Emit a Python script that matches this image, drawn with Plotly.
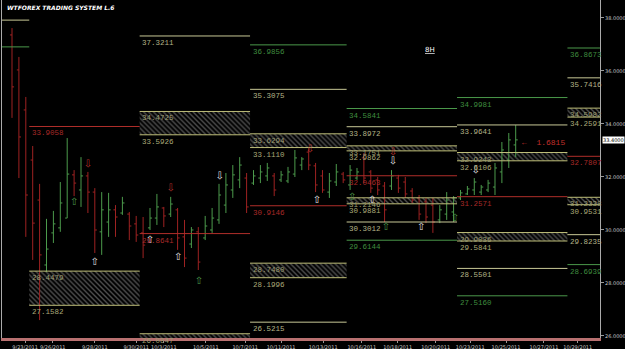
import plotly.graph_objects as go

TITLE = "WTFOREX TRADING SYSTEM L.6"

# ---- 8H price bars (bar index 0..73) ----
opens = [37.36, 36.04, 34.53, 32.64, 31.13, 28.68, 29.89, 30.08, 30.45, 32.08,
         31.51, 32.04, 31.43, 29.93, 30.30, 30.76, 30.64, 30.60, 30.23, 29.89,
         30.08, 30.45, 30.83, 30.60, 30.76, 29.74, 29.47, 29.93, 29.70, 30.00,
         30.38, 30.94, 31.51, 31.89, 31.96, 31.77, 31.96, 32.04, 32.04, 31.89,
         31.85, 32.11, 32.45, 32.94, 32.42, 32.04, 31.43, 31.81, 32.11, 31.70,
         31.96, 32.72, 32.19, 31.89, 31.66, 31.66, 31.96, 31.81, 31.47, 31.21,
         31.06, 30.94, 30.38, 30.60, 30.68, 31.21, 31.36, 31.51, 31.43, 31.51,
         31.62, 32.19, 32.64, 33.21]
highs = [37.62, 36.53, 35.02, 33.17, 31.74, 30.42, 30.72, 31.81, 33.47, 32.26,
         32.75, 32.19, 31.58, 31.43, 31.40, 30.94, 31.25, 30.68, 30.53, 30.49,
         30.83, 31.36, 30.87, 31.25, 30.83, 30.38, 30.11, 30.11, 30.53, 30.83,
         31.74, 32.15, 32.45, 32.75, 32.15, 32.26, 32.45, 32.53, 32.15, 32.23,
         32.38, 33.02, 32.75, 33.09, 32.53, 32.26, 32.15, 32.49, 32.19, 32.45,
         32.34, 32.91, 32.26, 32.00, 31.81, 32.26, 32.08, 32.00, 31.58, 31.32,
         31.21, 31.21, 30.94, 31.43, 31.28, 31.51, 31.66, 31.96, 31.70, 31.89,
         32.53, 33.32, 33.66, 33.96]
lows = [34.23, 31.96, 29.74, 28.87, 26.60, 28.41, 29.51, 29.93, 30.45, 31.28,
        30.87, 30.64, 29.13, 29.06, 29.74, 29.74, 30.57, 29.62, 29.55, 28.94,
        30.00, 30.19, 30.11, 30.49, 29.25, 28.60, 29.32, 28.49, 29.62, 29.89,
        30.23, 30.64, 31.21, 31.58, 30.64, 31.70, 31.77, 31.85, 31.28, 31.81,
        31.77, 32.00, 32.26, 32.26, 31.43, 31.40, 31.21, 31.66, 31.77, 31.51,
        31.89, 31.77, 31.40, 31.32, 30.30, 31.51, 31.40, 31.21, 31.02, 30.38,
        30.26, 29.89, 30.26, 30.38, 30.30, 31.13, 31.32, 31.32, 31.32, 31.43,
        31.32, 31.77, 32.34, 32.75]
closes = [35.40, 33.51, 31.32, 30.26, 29.06, 29.28, 30.23, 31.02, 32.11, 31.77,
          32.04, 31.43, 30.00, 30.76, 30.76, 30.49, 31.02, 30.15, 29.81, 29.43,
          30.45, 30.87, 30.53, 30.98, 29.70, 28.94, 30.00, 28.79, 30.15, 30.45,
          31.32, 31.70, 32.08, 32.45, 30.87, 32.04, 32.19, 32.34, 31.51, 32.08,
          32.19, 32.72, 32.68, 32.45, 31.70, 31.51, 31.85, 32.19, 31.89, 32.26,
          32.19, 31.96, 31.58, 31.51, 30.76, 32.04, 31.58, 31.36, 31.13, 30.60,
          30.49, 30.30, 30.76, 31.13, 31.21, 31.40, 31.55, 31.81, 31.62, 31.77,
          32.34, 33.02, 33.40, 33.40]
bar_index = list(range(len(opens)))

# ---- x axis date labels (bar index where label sits) ----
date_labels = ["9/23/2011", "9/26/2011", "9/28/2011", "9/30/2011", "10/3/2011",
               "10/5/2011", "10/7/2011", "10/11/2011", "10/13/2011", "10/16/2011",
               "10/18/2011", "10/20/2011", "10/23/2011", "10/25/2011", "10/27/2011",
               "10/29/2011"]
date_pos = [1.9, 5.9, 12.0, 18.0, 22.0, 28.1, 33.8, 39.0, 45.1, 50.7,
            55.9, 61.4, 66.4, 71.6, 77.1, 82.0]

# ---- weekly level periods (bar index edges) ----
week_edges = [-1.45, 2.5, 18.5, 34.5, 48.5, 64.5, 80.5, 85.22]

# single lines: week, kind (G green / Y yellow / R red), price, label
line_week = [0, 0,
             1,
             2, 2,
             3, 3, 3, 3,
             4, 4, 4, 4, 4,
             5, 5, 5, 5, 5,
             6, 6, 6, 6, 6]
line_kind = ["Y", "G",
             "R",
             "Y", "R",
             "G", "Y", "R", "Y",
             "G", "Y", "R", "Y", "G",
             "G", "Y", "R", "Y", "G",
             "G", "Y", "R", "Y", "G"]
line_price = [37.92, 36.91,
              33.9058,
              37.3211, 29.8641,
              36.9856, 35.3075, 30.9146, 26.5215,
              34.5841, 33.8972, 32.0463, 30.3012, 29.6144,
              34.9981, 33.9641, 31.2571, 28.5501, 27.5160,
              36.8673, 35.7416, 32.7807, 29.8235, 28.6939]
line_text = ["", "",
             "33.9058",
             "37.3211", "29.8641",
             "36.9856", "35.3075", "30.9146", "26.5215",
             "34.5841", "33.8972", "32.0463", "30.3012", "29.6144",
             "34.9981", "33.9641", "31.2571", "28.5501", "27.5160",
             "36.8673", "35.7416", "32.7807", "29.8235", "28.6939"]

# hatched zones: week, top, bottom, labels
zone_week = [1, 2, 2, 3, 3, 4, 4, 5, 5, 6, 6]
zone_top = [28.4479, 34.4725, 26.0847, 33.6294, 28.7480, 33.1751, 31.2146,
            32.9243, 29.9036, 34.5982, 31.2338]
zone_bottom = [27.1582, 33.5926, 25.80, 33.1110, 28.1996, 32.9862, 30.9881,
               32.6106, 29.5841, 34.2591, 30.9531]
zone_top_text = ["28.4479", "34.4725", "26.0847", "33.6294", "28.7480", "33.1751",
                 "31.2146", "32.9243", "29.9036", "34.5982", "31.2338"]
zone_bottom_text = ["27.1582", "33.5926", "", "33.1110", "28.1996", "32.9862",
                    "30.9881", "32.6106", "29.5841", "34.2591", "30.9531"]

# signal arrows
sig_x = [9.0, 11.0, 23.0, 12.0, 24.1, 27.1, 20.0, 30.1, 43.2, 44.2, 49.3,
         52.2, 55.2, 55.2, 54.2, 59.3, 64.2, 67.2]
sig_y = [31.02, 32.49, 31.55, 28.79, 28.98, 28.04, 29.62, 32.00, 33.02, 31.13,
         31.21, 31.13, 32.94, 32.57, 30.08, 30.11, 30.45, 32.26]
sig_dir = ["up", "down", "down", "up", "up", "up", "up", "down", "down", "up",
           "up", "up", "down", "down", "up", "up", "up", "down"]
sig_col = ["G", "R", "R", "W", "W", "G", "W", "W", "R", "W",
           "G", "W", "R", "W", "G", "W", "G", "W"]

last_price = 33.40
range_text = "1.6815"
range_pos = (73.6, 33.32)
tf_text = "8H"
tf_pos = (60.6, 36.79)

# ---------------- figure ----------------
COL = {"G": "#4a984a", "Y": "#c8c896", "R": "#b02e2a", "W": "#e0e0e0",
       "Z": "#bebe78"}
LCOL = {"G": "#3f8c3f", "Y": "#b4b488", "R": "#a82a28"}
LABEL_FONT = "Liberation Mono"
LSIZE = 7.5

fig = go.Figure()

# hatched zones as based bars
zx, zw, zb, zh = [], [], [], []
for w, t, b in zip(zone_week, zone_top, zone_bottom):
    x0, x1 = week_edges[w], week_edges[w + 1]
    zx.append((x0 + x1) / 2)
    zw.append(x1 - x0)
    zb.append(b)
    zh.append(t - b)
fig.add_trace(go.Bar(x=zx, y=zh, base=zb, width=zw,
                     marker=dict(color="black", line=dict(width=0),
                                 pattern=dict(shape="\\", fgcolor="#a0a0a0",
                                              bgcolor="black", size=3.5,
                                              solidity=0.4)),
                     hoverinfo="skip", showlegend=False))

# level lines
for kind in ["G", "Y", "R"]:
    xs, ys = [], []
    for w, k, p in zip(line_week, line_kind, line_price):
        if k != kind:
            continue
        xs += [week_edges[w], week_edges[w + 1], None]
        ys += [p, p, None]
    fig.add_trace(go.Scatter(x=xs, y=ys, mode="lines",
                             line=dict(color=COL[kind], width=1),
                             hoverinfo="skip", showlegend=False))
# zone borders
xs, ys = [], []
for w, t, b in zip(zone_week, zone_top, zone_bottom):
    for p in (t, b):
        xs += [week_edges[w], week_edges[w + 1], None]
        ys += [p, p, None]
fig.add_trace(go.Scatter(x=xs, y=ys, mode="lines",
                         line=dict(color=COL["Z"], width=1),
                         hoverinfo="skip", showlegend=False))

# price bars
fig.add_trace(go.Ohlc(x=bar_index, open=opens, high=highs, low=lows, close=closes,
                      increasing=dict(line=dict(color="#4c9a4c", width=1)),
                      decreasing=dict(line=dict(color="#9e2222", width=1)),
                      tickwidth=0.3, hoverinfo="skip", showlegend=False))

# signals
fig.add_trace(go.Scatter(x=sig_x, y=sig_y, mode="text",
                         text=["\u21e7" if d == "up" else "\u21e9" for d in sig_dir],
                         textfont=dict(family="DejaVu Sans", size=10,
                                       color=[COL[c] for c in sig_col]),
                         hoverinfo="skip", showlegend=False))

ann = []
for w, k, p, t in zip(line_week, line_kind, line_price, line_text):
    if t:
        ann.append(dict(x=week_edges[w] + 0.1, y=p, xref="x", yref="y", text=t,
                        showarrow=False, xanchor="left", yanchor="top", yshift=-1,
                        font=dict(family=LABEL_FONT, size=LSIZE, color=LCOL[k])))
for w, t, b, tt, bt in zip(zone_week, zone_top, zone_bottom, zone_top_text,
                           zone_bottom_text):
    if tt:
        ann.append(dict(x=week_edges[w] + 0.1, y=t, xref="x", yref="y", text=tt,
                        showarrow=False, xanchor="left", yanchor="top", yshift=-1,
                        font=dict(family=LABEL_FONT, size=LSIZE, color="#9c9c70")))
    if bt:
        ann.append(dict(x=week_edges[w] + 0.1, y=b, xref="x", yref="y", text=bt,
                        showarrow=False, xanchor="left", yanchor="top", yshift=-1,
                        font=dict(family=LABEL_FONT, size=LSIZE, color="#aaaa78")))

ann.append(dict(x=0.005, y=1, xref="paper", yref="paper", text="<b><i>" + TITLE + "</i></b>",
                showarrow=False, xanchor="left", yanchor="top", yshift=-2,
                font=dict(family="DejaVu Sans", size=6, color="white")))
ann.append(dict(x=range_pos[0], y=range_pos[1], xref="x", yref="y",
                text="\u2190  " + range_text, showarrow=False, xanchor="left",
                yanchor="middle", font=dict(family=LABEL_FONT, size=8, color="#c0302c")))
ann.append(dict(x=tf_pos[0], y=tf_pos[1], xref="x", yref="y", text="<u>" + tf_text + "</u>",
                showarrow=False, font=dict(family="DejaVu Sans", size=7, color="white")))
ann.append(dict(x=1, y=last_price, xref="paper", yref="y", text="%.4f" % last_price,
                showarrow=False, xanchor="left", xshift=2, bgcolor="white", borderpad=0,
                font=dict(family="DejaVu Sans", size=5, color="black")))
fig.update_layout(annotations=ann)

fig.update_layout(
    width=625, height=349, autosize=False,
    margin=dict(l=2, r=25, t=0, b=11),
    paper_bgcolor="black", plot_bgcolor="black",
    barmode="overlay", showlegend=False,
    xaxis=dict(range=[week_edges[0], week_edges[-1]], rangeslider=dict(visible=False),
               showgrid=False, zeroline=False, tickmode="array",
               tickvals=date_pos, ticktext=date_labels, tickangle=0,
               tickfont=dict(family="DejaVu Sans", size=5, color="#c8c8c8"),
               ticks="outside", ticklen=2, tickcolor="#999999",
               showline=True, linecolor="#b87070", linewidth=3),
    yaxis=dict(range=[25.924, 38.679], side="right", showgrid=False, zeroline=False,
               tickvals=[26, 28, 30, 32, 34, 36, 38], tickformat=".4f",
               tickfont=dict(family="DejaVu Sans", size=5, color="#c8c8c8"),
               ticks="outside", ticklen=3, tickcolor="#999999",
               showline=True, mirror=True, linecolor="#aaaaaa", linewidth=1),
)

fig.write_html("out.html")
